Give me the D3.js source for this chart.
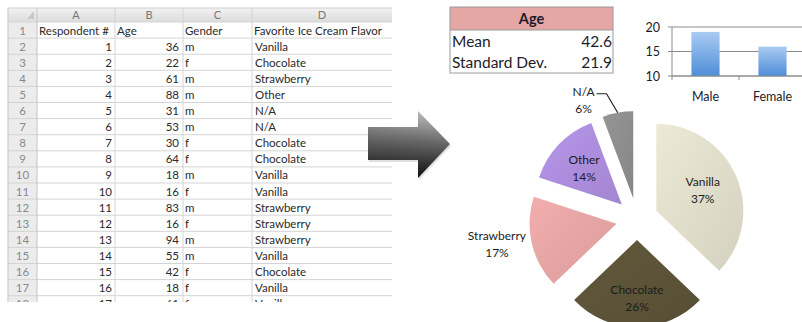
<!DOCTYPE html>
<html><head><meta charset="utf-8">
<script src="https://cdn.jsdelivr.net/npm/d3@7"></script>
<style>html,body{margin:0;padding:0;background:#fff;}svg{display:block;}</style>
</head><body>
<svg id="c" width="802" height="322"></svg>
<script>
// ---- data ----
const columnLetters = ["A","B","C","D"];
const headers = ["Respondent #","Age","Gender","Favorite Ice Cream Flavor"];
const respondents = [1,2,3,4,5,6,7,8,9,10,11,12,13,14,15,16,17];
const ages = [36,22,61,88,31,53,30,64,18,16,83,16,94,55,42,18,61];
const genders = ["m","f","m","m","m","m","f","f","m","f","m","f","m","m","f","f","f"];
const flavors = ["Vanilla","Chocolate","Strawberry","Other","N/A","N/A","Chocolate","Chocolate","Vanilla","Vanilla","Strawberry","Strawberry","Strawberry","Vanilla","Chocolate","Vanilla","Vanilla"];
const statLabels = ["Mean","Standard Dev."];
const statValues = [42.6, 21.9];
const genderCats = ["Male","Female"];
const genderCounts = [19,16];
const genderTicks = [10,15,20];
const pieCats = ["Vanilla","Chocolate","Strawberry","Other","N/A"];
const pieCounts = [13,9,6,5,2];
const pieColors = ["#dcd9c7","#5a5237","#e1a2a2","#a98bd9","#8b8b8b"];

const svg = d3.select("#c");
const defs = svg.append("defs");
const FONT = "Lato, 'Open Sans', sans-serif";

// ---- spreadsheet ----
const colX = [8,37,115,183,252,392];
const hdrTop = 8, hdrH = 14, rowH = 16.1, row1Top = 22;
const clipBottom = 302;
defs.append("clipPath").attr("id","sheetClip").append("rect")
  .attr("x",0).attr("y",0).attr("width",400).attr("height",clipBottom);
const sheet = svg.append("g").attr("clip-path","url(#sheetClip)");
const hg = defs.append("linearGradient").attr("id","hdrGrad").attr("x1",0).attr("y1",0).attr("x2",0).attr("y2",1);
hg.append("stop").attr("offset","0%").attr("stop-color","#f2f2f2");
hg.append("stop").attr("offset","100%").attr("stop-color","#dcdcdc");

const nRows = 18;
const rowY = i => row1Top + i*rowH; // i=0 -> row 1
sheet.append("rect").attr("x",colX[0]).attr("y",row1Top).attr("width",colX[1]-colX[0]).attr("height",nRows*rowH+4).attr("fill","#ececec");
sheet.append("rect").attr("x",colX[0]).attr("y",hdrTop).attr("width",colX[5]-colX[0]).attr("height",hdrH).attr("fill","url(#hdrGrad)");
for (let i=0;i<=nRows;i++){
  sheet.append("line").attr("x1",colX[0]).attr("x2",colX[5]).attr("y1",rowY(i)).attr("y2",rowY(i))
    .attr("stroke", "#d4d4d4").attr("stroke-width",1);
}
sheet.append("line").attr("x1",colX[0]).attr("x2",colX[5]).attr("y1",hdrTop).attr("y2",hdrTop).attr("stroke","#cfcfcf");
colX.forEach((x,i)=>{
  if(i===colX.length-1) return;
  sheet.append("line").attr("x1",x).attr("x2",x).attr("y1",hdrTop).attr("y2",clipBottom+10)
    .attr("stroke", i<=1 ? "#c4c4c4" : "#d4d4d4");
});
sheet.append("path").attr("d",`M${colX[1]-3},${hdrTop+3}L${colX[1]-3},${hdrTop+hdrH-3}L${colX[1]-10},${hdrTop+hdrH-3}Z`).attr("fill","#c8c8c8");
columnLetters.forEach((l,i)=>{
  sheet.append("text").attr("x",(colX[i+1]+colX[i+2])/2).attr("y",hdrTop+hdrH/2+4)
    .attr("text-anchor","middle").attr("font-family",FONT).attr("font-size",11).attr("fill","#777").text(l);
});
for (let i=0;i<nRows;i++){
  sheet.append("text").attr("x",(colX[0]+colX[1])/2).attr("y",rowY(i)+rowH/2+4.5)
    .attr("text-anchor","middle").attr("font-family",FONT).attr("font-size",11.5).attr("fill","#8a8a8a").text(i+1);
}
const cellFont = 11.5, cellFill = "#2a2a2a";
headers.forEach((h,i)=>{
  sheet.append("text").attr("x",colX[i+1]+2).attr("y",rowY(0)+rowH/2+4.5)
    .attr("font-family",FONT).attr("font-size",cellFont).attr("fill",cellFill).text(h);
});
respondents.forEach((r,k)=>{
  const y = rowY(k+1)+rowH/2+4.5;
  sheet.append("text").attr("x",colX[2]-3).attr("y",y).attr("text-anchor","end")
    .attr("font-family",FONT).attr("font-size",cellFont).attr("fill",cellFill).text(r);
  sheet.append("text").attr("x",colX[3]-4).attr("y",y).attr("text-anchor","end")
    .attr("font-family",FONT).attr("font-size",cellFont).attr("fill",cellFill).text(ages[k]);
  sheet.append("text").attr("x",colX[3]+2).attr("y",y)
    .attr("font-family",FONT).attr("font-size",cellFont).attr("fill",cellFill).text(genders[k]);
  sheet.append("text").attr("x",colX[4]+3).attr("y",y)
    .attr("font-family",FONT).attr("font-size",cellFont).attr("fill",cellFill).text(flavors[k]);
});

// ---- arrow ----
const ag = defs.append("linearGradient").attr("id","arrGrad").attr("x1",0).attr("y1",0).attr("x2",0).attr("y2",1);
ag.append("stop").attr("offset","0%").attr("stop-color","#c8c8c8");
ag.append("stop").attr("offset","45%").attr("stop-color","#6e6e6e");
ag.append("stop").attr("offset","100%").attr("stop-color","#101010");
const ag2 = defs.append("linearGradient").attr("id","arrGrad2").attr("x1",0).attr("y1",0).attr("x2",1).attr("y2",0);
ag2.append("stop").attr("offset","0%").attr("stop-color","#000").attr("stop-opacity",0.15);
ag2.append("stop").attr("offset","100%").attr("stop-color","#000").attr("stop-opacity",0.0);
const arrowD = "M368,127L418,127L418,111L450,144L418,178L418,160L368,160Z";
svg.append("path").attr("d",arrowD).attr("fill","#000").attr("opacity",0.12).attr("transform","translate(1,2)");
svg.append("path").attr("d",arrowD).attr("fill","url(#arrGrad)");
svg.append("path").attr("d",arrowD).attr("fill","url(#arrGrad2)");

// ---- age table ----
const tX0 = 450, tX1 = 613, tTop = 7, tHdrH = 23, tRowH = 21.5;
svg.append("rect").attr("x",tX0).attr("y",tTop).attr("width",tX1-tX0).attr("height",tHdrH).attr("fill","#e4a7a6");
svg.append("rect").attr("x",tX0).attr("y",tTop).attr("width",tX1-tX0).attr("height",tHdrH+2*tRowH)
  .attr("fill","none").attr("stroke","#9a9a9a").attr("stroke-width",1);
svg.append("line").attr("x1",tX0).attr("x2",tX1).attr("y1",tTop+tHdrH).attr("y2",tTop+tHdrH).attr("stroke","#9a9a9a");
svg.append("text").attr("x",(tX0+tX1)/2).attr("y",tTop+16.5).attr("text-anchor","middle")
  .attr("font-family",FONT).attr("font-weight","bold").attr("font-size",14.5).attr("fill","#1c1c2a").text("Age");
statLabels.forEach((l,i)=>{
  const y = tTop+tHdrH+(i+1)*tRowH-5;
  svg.append("text").attr("x",tX0+2).attr("y",y).attr("font-family",FONT).attr("font-size",15.5).attr("fill","#1c1c2a").text(l);
  svg.append("text").attr("x",tX1-1).attr("y",y).attr("text-anchor","end").attr("font-family",FONT).attr("font-size",15.5).attr("fill","#1c1c2a").text(statValues[i].toFixed(1));
});

// ---- bar chart ----
const bx = d3.scaleBand().domain(genderCats).range([672,806]).paddingInner(0.58).paddingOuter(0.29);
const by = d3.scaleLinear().domain([10,20]).range([76,27]);
const bg = defs.append("linearGradient").attr("id","barGrad").attr("x1",0).attr("y1",0).attr("x2",0).attr("y2",1);
bg.append("stop").attr("offset","0%").attr("stop-color","#a9cbf2");
bg.append("stop").attr("offset","100%").attr("stop-color","#4f8ed9");
const bChart = svg.append("g");
genderTicks.forEach(t=>{
  bChart.append("line").attr("x1",672).attr("x2",806).attr("y1",by(t)).attr("y2",by(t)).attr("stroke","#8c8c8c");
});
bChart.append("line").attr("x1",672).attr("x2",672).attr("y1",by(20)).attr("y2",by(10)).attr("stroke","#8c8c8c");
bChart.selectAll("rect.bar").data(genderCats).join("rect").attr("class","bar")
  .attr("x",d=>bx(d)).attr("width",bx.bandwidth())
  .attr("y",(d,i)=>by(genderCounts[i])).attr("height",(d,i)=>by(10)-by(genderCounts[i]))
  .attr("fill","url(#barGrad)");
bChart.append("line").attr("x1",672).attr("x2",806).attr("y1",by(10)).attr("y2",by(10)).attr("stroke","#8c8c8c");
genderTicks.forEach(t=>{
  bChart.append("line").attr("x1",668).attr("x2",672).attr("y1",by(t)).attr("y2",by(t)).attr("stroke","#8c8c8c");
  bChart.append("text").attr("x",660).attr("y",by(t)+4.5).attr("text-anchor","end")
    .attr("font-family",FONT).attr("font-size",12.5).attr("fill","#1c1c2a").text(t);
});
[0,1,2].forEach(i=>{
  const x = 672 + i*bx.step();
  bChart.append("line").attr("x1",x).attr("x2",x).attr("y1",by(10)).attr("y2",by(10)+4).attr("stroke","#8c8c8c");
});
genderCats.forEach(c=>{
  bChart.append("text").attr("x",bx(c)+bx.bandwidth()/2).attr("y",101).attr("text-anchor","middle")
    .attr("font-family",FONT).attr("font-size",12.5).attr("fill","#1c1c2a").text(c);
});

// ---- exploded pie ----
const cx = 637, cy = 219, R = 87, explode = 21;
const pie = d3.pie().sort(null).value(d=>d)(pieCounts);
const arc = d3.arc().innerRadius(0).outerRadius(R);
const total = d3.sum(pieCounts);
const pg = svg.append("g").attr("transform",`translate(${cx},${cy})`);
pieColors.forEach((c,i)=>{
  const g = defs.append("linearGradient").attr("id","pg"+i).attr("x1",0).attr("y1",0).attr("x2",1).attr("y2",1);
  g.append("stop").attr("offset","0%").attr("stop-color",d3.color(c).brighter(0.2));
  g.append("stop").attr("offset","100%").attr("stop-color",d3.color(c).darker(0.1));
});
const off = d => { const a=(d.startAngle+d.endAngle)/2; return [explode*Math.sin(a), -explode*Math.cos(a)]; };
pg.selectAll("path.slice").data(pie).join("path").attr("class","slice")
  .attr("transform",d=>`translate(${off(d)[0]},${off(d)[1]})`)
  .attr("d",arc).attr("fill",(d,i)=>`url(#pg${i})`);
// label placement: radial distance factor (relative to R), extra shift
const labelR = [0.58, 0.67, 1.41, 0.60, 1.14];
const labelShift = [[0,0],[0,0],[0,-6],[0,0],[-32,0]];
const pct = v => Math.round(v/total*100)+"%";
pie.forEach((d,i)=>{
  const a=(d.startAngle+d.endAngle)/2;
  const o = off(d);
  const ax = o[0] + R*labelR[i]*Math.sin(a) + labelShift[i][0];
  const ay = o[1] - R*labelR[i]*Math.cos(a) + labelShift[i][1];
  const fill = "#1c1c1c";
  pg.append("text").attr("x",ax).attr("y",ay-4.5).attr("text-anchor","middle")
    .attr("font-family",FONT).attr("font-size",12).attr("fill",fill).text(pieCats[i]);
  pg.append("text").attr("x",ax).attr("y",ay+12.5).attr("text-anchor","middle")
    .attr("font-family",FONT).attr("font-size",12).attr("fill",fill).text(pct(pieCounts[i]));
  if (i===4){
    // leader line from label to the middle of the slice's outer arc
    const tipX = o[0] + R*Math.sin(a), tipY = o[1] - R*Math.cos(a);
    pg.append("path").attr("d",`M${ax+13},${ay-7}L${ax+23},${ay-7}L${tipX},${tipY}`)
      .attr("fill","none").attr("stroke","#222").attr("stroke-width",1.2);
  }
});
</script>
</body></html>
